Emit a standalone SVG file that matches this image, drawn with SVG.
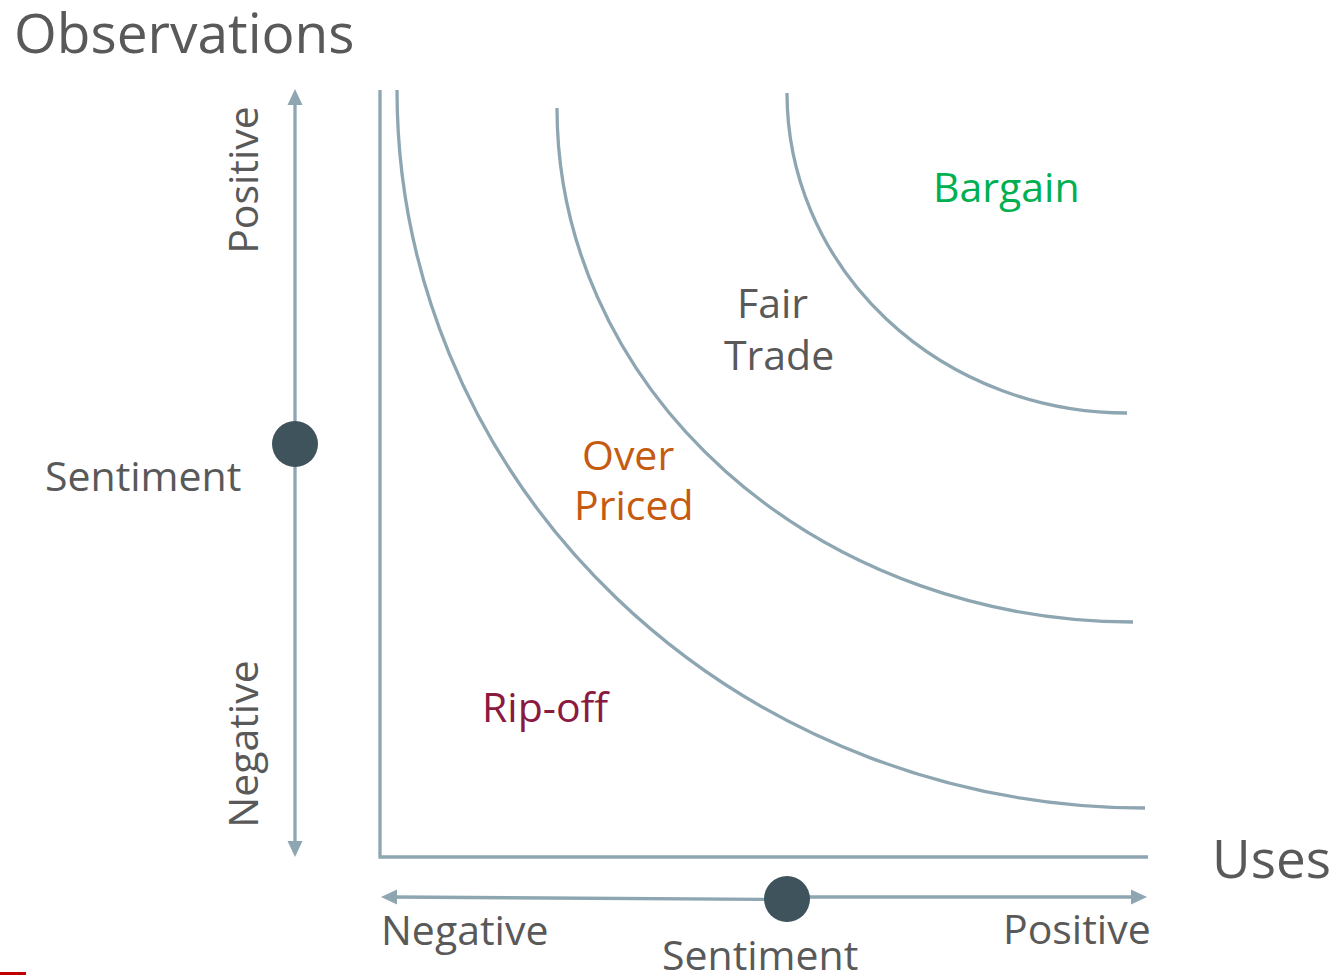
<svg xmlns="http://www.w3.org/2000/svg" width="1337" height="976" viewBox="0 0 1337 976">
  <style>
    .ln { fill: none; stroke: #8DA6B2; stroke-width: 3.3; }
    .dot { fill: #3F535D; }
    .t { font-family: "Open Sans", "Noto Sans", sans-serif; fill: #595959; font-size: 41px; }
    .head { fill: #8DA6B2; }
  </style>
  <rect width="1337" height="976" fill="#ffffff"/>

  <g id="title">
    <text class="t" x="14" y="53" style="font-size:55px">Observations</text>
  </g>

  <g id="connectors">
    <!-- vertical sentiment arrow -->
    <line class="ln" x1="295" y1="102" x2="295" y2="844"/>
    <polygon class="head" points="295,89 287.5,105 302.5,105"/>
    <polygon class="head" points="295,857 287.5,841 302.5,841"/>
    <!-- axes -->
    <path class="ln" d="M380,90 L380,857 L1148,857"/>
    <!-- horizontal sentiment arrow -->
    <path class="ln" d="M394,897 L787,899.5"/>
    <path class="ln" d="M787,897 L1134,897"/>
    <polygon class="head" points="381,897 397,889.5 397,904.5"/>
    <polygon class="head" points="1147,897 1131,889.5 1131,904.5"/>
    <!-- indifference curves -->
    <path class="ln" d="M397,90 A748,718 0 0 0 1145,808"/>
    <path class="ln" d="M557,108 A576,514 0 0 0 1133,622"/>
    <path class="ln" d="M787,93 A340,320 0 0 0 1127,413"/>
  </g>

  <g id="y-sentiment">
    <circle class="dot" cx="295" cy="444" r="23"/>
    <text class="t" x="45" y="491">Sentiment</text>
    <text class="t" text-anchor="middle" transform="translate(258,180) rotate(-90)">Positive</text>
    <text class="t" text-anchor="middle" transform="translate(258,744) rotate(-90)">Negative</text>
  </g>

  <g id="x-sentiment">
    <circle class="dot" cx="787" cy="899" r="23"/>
    <text class="t" x="381" y="945">Negative</text>
    <text class="t" x="662" y="970">Sentiment</text>
    <text class="t" x="1003" y="944">Positive</text>
  </g>

  <g id="uses">
    <text class="t" x="1212" y="878" style="font-size:53px">Uses</text>
  </g>

  <g id="bargain">
    <text class="t" x="933" y="202" style="fill:#00B050">Bargain</text>
  </g>
  <g id="fair-trade">
    <text class="t" x="737" y="318">Fair</text>
    <text class="t" x="724" y="370">Trade</text>
  </g>
  <g id="over-priced">
    <text class="t" x="582" y="470" style="fill:#C55A11">Over</text>
    <text class="t" x="574" y="520" style="fill:#C55A11">Priced</text>
  </g>
  <g id="rip-off">
    <text class="t" x="482" y="722" style="fill:#8B1A3F">Rip-off</text>
  </g>

  <rect x="0" y="972" width="26" height="3" fill="#C00000"/>
</svg>
